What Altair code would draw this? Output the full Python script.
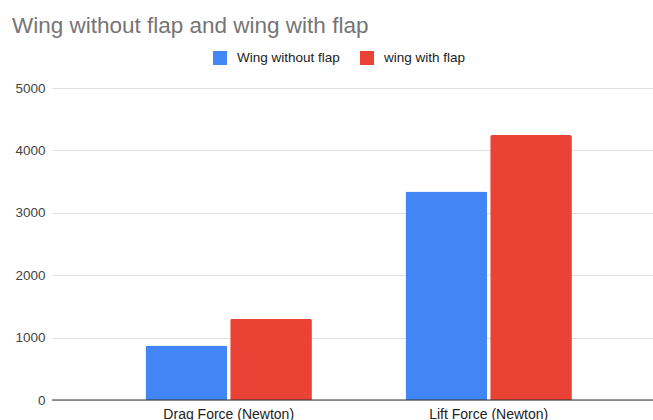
import altair as alt
import pandas as pd

categories = ["Drag Force (Newton)", "Lift Force (Newton)"]
series = ["Wing without flap", "wing with flap"]
without_flap = [875, 3340]
with_flap = [1300, 4245]
colors = ["#4285F4", "#EA4335"]

rows = []
for c, a, b in zip(categories, without_flap, with_flap):
    rows.append({"cat": c, "series": series[0], "value": a})
    rows.append({"cat": c, "series": series[1], "value": b})
df = pd.DataFrame(rows)

FONT = "Liberation Sans"

chart = alt.Chart(df).mark_bar(cornerRadiusTopLeft=2, cornerRadiusTopRight=2).encode(
    x=alt.X("cat:N", sort=categories, title=None,
            scale=alt.Scale(paddingInner=0.36, paddingOuter=0.3358, align=0.5355),
            axis=alt.Axis(labelAngle=0, labelColor="#222222", labelFontSize=14,
                          labelFont=FONT, ticks=False, domain=False, labelPadding=7,
                          grid=False)),
    xOffset=alt.XOffset("series:N", sort=series, scale=alt.Scale(paddingInner=0.035)),
    y=alt.Y("value:Q", title=None,
            scale=alt.Scale(domain=[0, 5000], nice=False),
            axis=alt.Axis(values=[0, 1000, 2000, 3000, 4000, 5000], format="d",
                          labelColor="#444444", labelFontSize=13.5, labelFont=FONT,
                          ticks=False, domain=False, labelPadding=7,
                          gridColor="#e0e0e0", gridWidth=1)),
    color=alt.Color("series:N", sort=series,
                    scale=alt.Scale(domain=series, range=colors),
                    legend=alt.Legend(title=None, orient="none", direction="horizontal",
                                      legendX=161, legendY=-37, symbolType="square",
                                      symbolSize=196, symbolStrokeWidth=0,
                                      labelFontSize=13.5, labelFont=FONT, labelColor="#222222",
                                      labelOffset=10, columnPadding=20, padding=0)),
)

baseline = alt.Chart(pd.DataFrame({"y": [0]})).mark_rule(color="#333333", strokeWidth=1).encode(
    y="y:Q"
)

out = alt.layer(chart, baseline).properties(
    width=601, height=312,
    title=alt.TitleParams("Wing without flap and wing with flap", anchor="start",
                          frame="bounds", font=FONT, fontSize=22.5, fontWeight="normal",
                          color="#757575", offset=14, dx=-3),
    padding={"left": 52, "top": 88, "right": 0, "bottom": 20},
    autosize=alt.AutoSizeParams(type="none"),
).configure(font=FONT).configure_view(stroke=None)

out.save("out.html", embed_options={"renderer": "svg", "actions": False})
